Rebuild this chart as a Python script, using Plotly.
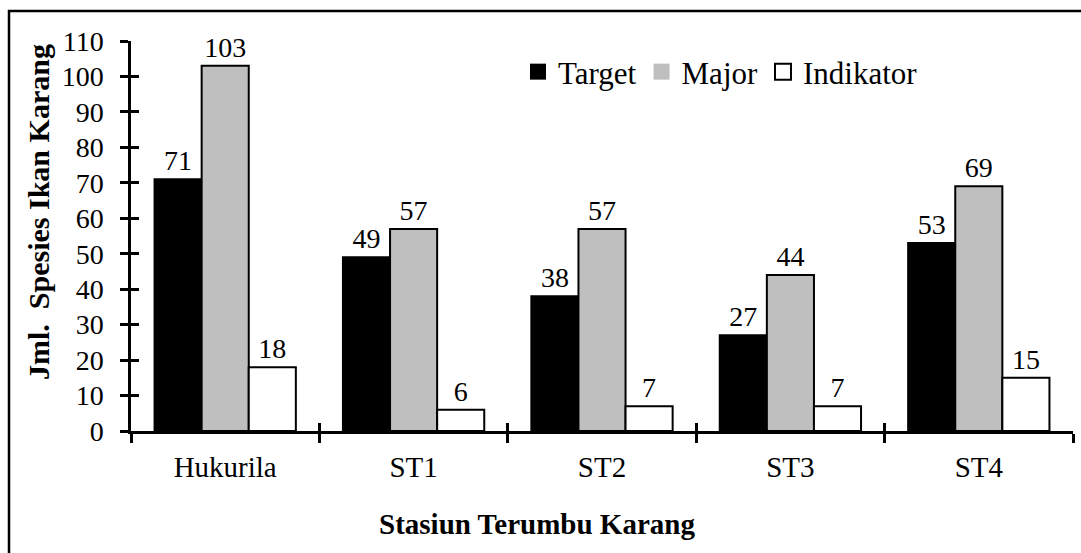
import plotly.graph_objects as go

# Reef fish species counts per station, by fish group
stations = ["Hukurila", "ST1", "ST2", "ST3", "ST4"]
target = [71, 49, 38, 27, 53]
major = [103, 57, 57, 44, 69]
indikator = [18, 6, 7, 7, 15]

y_ticks = list(range(0, 111, 10))

W, H = 1081, 553
L, R, T, B = 131, 8, 41, 122
PW, PH = W - L - R, H - T - B

FONT = "Liberation Serif, Times New Roman, serif"
FS = 28


def px_x(px):
    return (px - L) / PW


def px_y(py):
    return (H - B - py) / PH


series = [
    ("Target", target, "#000000"),
    ("Major", major, "#BFBFBF"),
    ("Indikator", indikator, "#FFFFFF"),
]

fig = go.Figure()

for name, vals, color in series:
    fig.add_trace(go.Bar(
        name=name, x=stations, y=vals, showlegend=False,
        marker=dict(color=color, line=dict(color="#000000", width=2)),
        text=[str(v) for v in vals], textposition="outside",
        textfont=dict(family=FONT, size=FS, color="#000000"),
        cliponaxis=False,
    ))

# legend keys: larger square swatches than the default bar key
for name, vals, color in series:
    fig.add_trace(go.Scatter(
        name=name, x=[None], y=[None], mode="markers",
        marker=dict(symbol="square", size=18, color=color,
                    line=dict(color="#000000", width=2 if color == "#FFFFFF" else 0)),
        hoverinfo="skip",
    ))

# invisible trace carrying the overlay axes used for the inner halves of the ticks
fig.add_trace(go.Scatter(
    x=stations, y=[0] * len(stations), xaxis="x2", yaxis="y2",
    mode="markers", marker=dict(opacity=0), showlegend=False, hoverinfo="skip",
))

axis_font = dict(family=FONT, size=FS, color="#000000")

fig.update_layout(
    width=W, height=H,
    margin=dict(l=L, r=R, t=T, b=B),
    paper_bgcolor="#FFFFFF", plot_bgcolor="#FFFFFF",
    barmode="group", bargap=0.25, bargroupgap=0,
    font=axis_font,
    showlegend=True,
    legend=dict(
        orientation="h", x=px_x(518), y=px_y(72), xanchor="left", yanchor="middle",
        font=dict(family=FONT, size=31, color="#000000"), itemwidth=30,
        bgcolor="rgba(0,0,0,0)", traceorder="normal",
    ),
    xaxis=dict(
        type="category", categoryarray=stations, range=[-0.5, 4.5],
        showline=True, linecolor="#000000", linewidth=2.5,
        ticks="outside", tickson="boundaries", ticklen=9, tickwidth=2.5, tickcolor="#000000",
        ticklabelstandoff=8, tickfont=dict(family=FONT, size=29, color="#000000"),
        showgrid=False, zeroline=False,
    ),
    yaxis=dict(
        range=[0, 110], tickvals=y_ticks, ticktext=[str(v) for v in y_ticks],
        showline=True, linecolor="#000000", linewidth=2.5,
        ticks="outside", ticklen=8, tickwidth=2.5, tickcolor="#000000",
        ticklabelstandoff=11, tickfont=axis_font, showgrid=False, zeroline=False,
    ),
    xaxis2=dict(
        type="category", categoryarray=stations, range=[-0.5, 4.5], overlaying="x",
        anchor="y", ticks="inside", tickson="boundaries", ticklen=8, tickwidth=2.5,
        tickcolor="#000000", showticklabels=False, showline=False, showgrid=False, zeroline=False,
    ),
    yaxis2=dict(
        range=[0, 110], tickvals=y_ticks, overlaying="y", anchor="x", side="left",
        ticks="inside", ticklen=8, tickwidth=2.5, tickcolor="#000000",
        showticklabels=False, showline=False, showgrid=False, zeroline=False,
    ),
    annotations=[
        dict(text="<b>Jml.  Spesies Ikan Karang</b>", textangle=-90,
             xref="paper", yref="paper", x=px_x(38), y=px_y(212),
             xanchor="center", yanchor="middle", showarrow=False,
             font=dict(family=FONT, size=30, color="#000000")),
        dict(text="<b>Stasiun Terumbu Karang</b>",
             xref="paper", yref="paper", x=px_x(537), y=px_y(524),
             xanchor="center", yanchor="middle", showarrow=False,
             font=dict(family=FONT, size=29, color="#000000")),
    ],
    shapes=[
        dict(type="rect", xref="paper", yref="paper",
             x0=px_x(9), x1=px_x(W + 10), y0=px_y(11), y1=px_y(H + 10),
             line=dict(color="#000000", width=2.5), fillcolor="rgba(0,0,0,0)", layer="above"),
    ],
)

fig.write_html("out.html")
